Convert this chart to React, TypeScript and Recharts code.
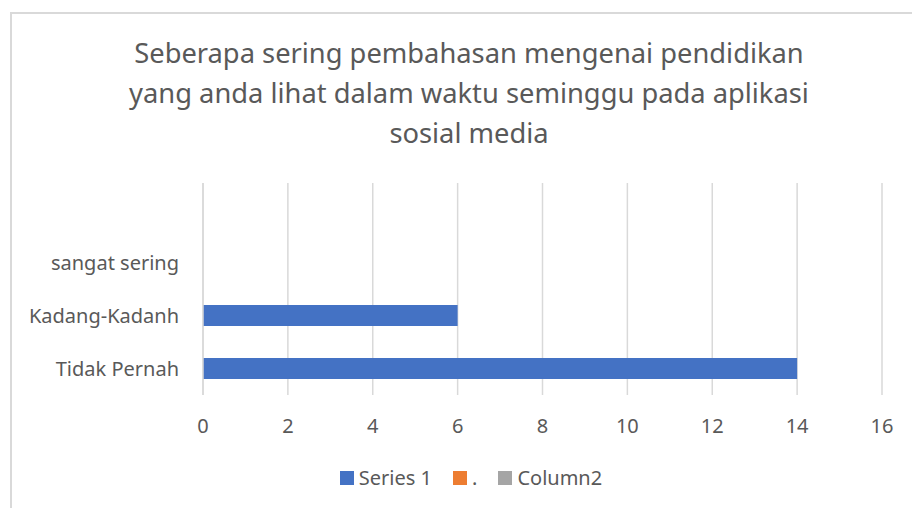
import React from "react";
import { BarChart, Bar, XAxis, YAxis, CartesianGrid, Legend } from "recharts";

const categories = ["", "sangat sering", "Kadang-Kadanh", "Tidak Pernah"];
const series1 = [null, null, 6, 14];
const seriesDot: (number | null)[] = [null, null, null, null];
const column2: (number | null)[] = [null, null, null, null];
const xTicks = [0, 2, 4, 6, 8, 10, 12, 14, 16];
const titleLines = [
  "Seberapa sering pembahasan mengenai pendidikan",
  "yang anda lihat dalam waktu seminggu pada aplikasi",
  "sosial media",
];

const data = categories.map((c, i) => ({
  name: c,
  a1: series1[i],
  a2: seriesDot[i],
  a3: column2[i],
}));

const FONT = "'Noto Sans', sans-serif";
const TXT = "#595959";

const renderLegend = (props: any) => {
  const items = [...(props.payload || [])].sort((a: any, b: any) =>
    String(a.dataKey).localeCompare(String(b.dataKey))
  );
  return (
    <div style={{ display: "flex", justifyContent: "center", alignItems: "center", fontFamily: FONT, fontSize: 20, color: TXT }}>
      {items.map((it: any, i: number) => (
        <div key={i} style={{ display: "flex", alignItems: "center", marginRight: i < items.length - 1 ? 21 : 0 }}>
          <span style={{ display: "inline-block", width: 14, height: 14, background: it.color, marginRight: 5 }} />
          <span>{it.value}</span>
        </div>
      ))}
    </div>
  );
};

export default function App() {
  return (
    <div style={{ position: "absolute", left: 0, top: 0, width: 912, height: 508, background: "#fff", overflow: "hidden", fontFamily: FONT }}>
      <div style={{ position: "absolute", left: 10, top: 12, width: 960, height: 560, borderLeft: "2px solid #D9D9D9", borderTop: "2px solid #D9D9D9", boxSizing: "border-box" }} />
      <div style={{ position: "absolute", left: 0, width: 938, top: 33, textAlign: "center", color: TXT, fontSize: 27.3, lineHeight: "40px" }}>
        {titleLines.map((l, i) => (
          <div key={i}>{l}</div>
        ))}
      </div>
      <div style={{ position: "absolute", left: 0, top: 0 }}>
        <BarChart
          width={912}
          height={508}
          data={data}
          layout="vertical"
          margin={{ top: 183, right: 30, bottom: 56, left: 0 }}
        >
          <CartesianGrid horizontal={false} stroke="#D9D9D9" strokeWidth={1.5} />
          <XAxis
            type="number"
            domain={[0, 16]}
            ticks={xTicks}
            axisLine={false}
            tickLine={false}
            height={30}
            tick={{ fill: TXT, fontSize: 20, fontFamily: FONT }}
            tickMargin={18}
          />
          <YAxis
            type="category"
            dataKey="name"
            width={203}
            axisLine={{ stroke: "#D9D9D9", strokeWidth: 1.5 }}
            tickLine={false}
            tick={{ fill: TXT, fontSize: 20, fontFamily: FONT }}
            tickMargin={18}
          />
          <Bar dataKey="a1" name="Series 1" fill="#4472C4" stackId="a" barSize={21} isAnimationActive={false} />
          <Bar dataKey="a2" name="." fill="#ED7D31" stackId="a" barSize={21} isAnimationActive={false} />
          <Bar dataKey="a3" name="Column2" fill="#A5A5A5" stackId="a" barSize={21} isAnimationActive={false} />
          <Legend
            content={renderLegend}
            wrapperStyle={{ position: "absolute", top: 464, left: 0, width: 942 }}
          />
        </BarChart>
      </div>
    </div>
  );
}
